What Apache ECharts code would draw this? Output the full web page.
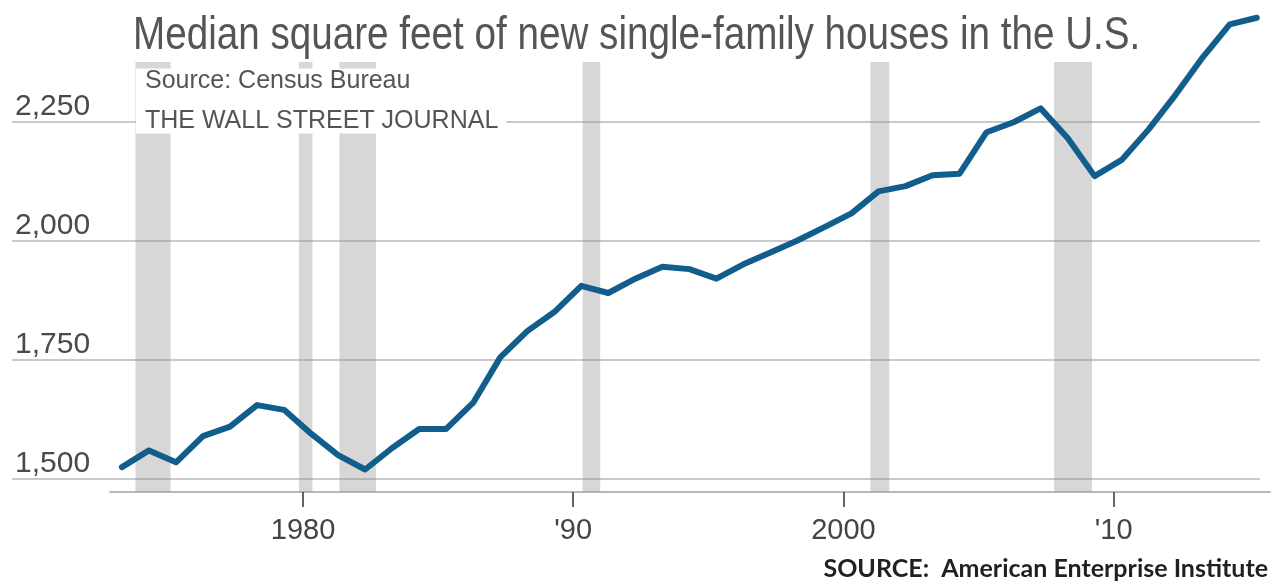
<!DOCTYPE html>
<html><head><meta charset="utf-8">
<script src="https://cdn.jsdelivr.net/npm/echarts@6/dist/echarts.min.js"></script>
<style>html,body{margin:0;padding:0;background:#fff}#c{width:1275px;height:587px}</style>
</head><body><div id="c"></div>
<script>
// ---- data ----
const years = [1973,1974,1975,1976,1977,1978,1979,1980,1981,1982,1983,1984,1985,1986,1987,1988,1989,1990,1991,1992,1993,1994,1995,1996,1997,1998,1999,2000,2001,2002,2003,2004,2005,2006,2007,2008,2009,2010,2011,2012,2013,2014,2015];
const medianSqFt = [1525,1560,1535,1590,1610,1655,1645,1595,1550,1520,1565,1605,1605,1660,1755,1810,1850,1905,1890,1920,1945,1940,1920,1950,1975,2000,2028,2057,2103,2114,2137,2140,2227,2248,2277,2215,2135,2169,2233,2306,2384,2453,2467];
// recession periods (fractional years)
const recessionStart = [1973.8, 1979.85, 1981.35, 1990.35, 2001.0, 2007.8];
const recessionEnd   = [1975.1, 1980.35, 1982.7, 1991.0, 2001.7, 2009.2];
const yTickValues = [1500, 1750, 2000, 2250];
const xTickValues = [1980, 1990, 2000, 2010];
const xTickLabels = ['1980', "'90", '2000', "'10"];
const titleText = 'Median square feet of new single-family houses in the U.S.';
const boxLine1 = 'Source: Census Bureau';
const boxLine2 = 'THE WALL STREET JOURNAL';
const footerText = 'SOURCE:  American Enterprise Institute';

// annual values are plotted a little into each year
const YEAR_POINT_OFFSET = 0.3;
const Y_MIN = 1472.8, Y_MAX = 2500, BAR_TOP = 2374;

const seriesData = years.map((y, i) => [y + YEAR_POINT_OFFSET, medianSqFt[i]]);
const recessionAreas = recessionStart.map((s, i) => [
  { xAxis: s, yAxis: Y_MIN },
  { xAxis: recessionEnd[i], yAxis: BAR_TOP }
]);

const SANS = "'Liberation Sans', Arial, Helvetica, sans-serif";
const chart = echarts.init(document.getElementById('c'), null, { renderer: 'canvas' });
chart.setOption({
  animation: false,
  backgroundColor: '#fff',
  graphic: [{
    type: 'text', x: 133, y: 13, scaleX: 0.84, z: 10,
    style: { text: titleText, x: 0, y: 0, fontFamily: SANS, fontSize: 46, fill: '#555', verticalAlign: 'top', align: 'left' }
  }],
  title: [
    { text: '{a|' + boxLine1 + '}\n{b|' + boxLine2 + '}', left: 136, top: 61,
      backgroundColor: '#fff', padding: [0, 8, 0, 9],
      textStyle: { fontWeight: 'normal', rich: {
        a: { fontFamily: SANS, fontSize: 25, fontWeight: 'normal', color: '#555', lineHeight: 40 },
        b: { fontFamily: SANS, fontSize: 25, fontWeight: 'normal', color: '#555', lineHeight: 40 }
      } } },
    { text: footerText, right: 2, bottom: 1,
      textStyle: { fontFamily: "Lato, 'Open Sans', sans-serif", fontSize: 25, fontWeight: 'bold', color: '#231f20' } }
  ],
  grid: [
    { left: 12, right: 15, top: 2, bottom: 95 },
    { left: 110, right: 5, top: 2, bottom: 95 }
  ],
  xAxis: [
    { type: 'value', gridIndex: 0, min: 1969.23, max: 2015.42, show: false },
    { type: 'value', gridIndex: 1, min: 1972.857, max: 2015.788,
      axisLine: { show: true, lineStyle: { color: '#b8b8b8', width: 2 } },
      axisTick: { show: true, customValues: xTickValues, length: 15, lineStyle: { color: '#333', width: 1.5 } },
      axisLabel: { customValues: xTickValues, formatter: v => xTickLabels[xTickValues.indexOf(v)],
        fontFamily: SANS, fontSize: 29, color: '#444', margin: 24 },
      splitLine: { show: false } }
  ],
  yAxis: [
    { type: 'value', gridIndex: 0, min: Y_MIN, max: Y_MAX,
      axisLine: { show: false },
      axisTick: { show: false, customValues: yTickValues },
      axisLabel: { inside: true, customValues: yTickValues,
        formatter: v => v.toLocaleString('en-US'),
        fontFamily: SANS, fontSize: 30, color: '#4a4a4a', verticalAlign: 'bottom', margin: 3 },
      splitLine: { show: true, lineStyle: { color: '#c9c9c9', width: 2 } } },
    { type: 'value', gridIndex: 1, min: 0, max: 1, show: false }
  ],
  series: [{
    type: 'line', xAxisIndex: 0, yAxisIndex: 0, data: seriesData,
    symbol: 'none', z: 3,
    lineStyle: { color: '#115d8c', width: 6, join: 'round', cap: 'round' },
    markArea: { silent: true, itemStyle: { color: 'rgba(150,150,150,0.38)' }, data: recessionAreas }
  }]
});
</script></body></html>
